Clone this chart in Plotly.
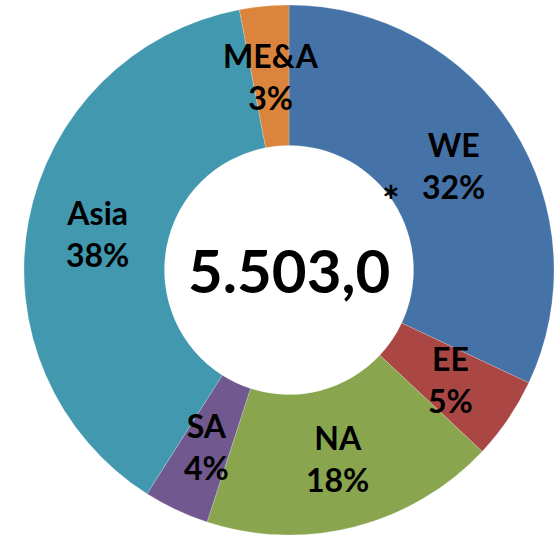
import math
import plotly.graph_objects as go

# data, clockwise from 12 o'clock
regions = ['WE', 'EE', 'NA', 'SA', 'Asia', 'ME&A']
shares = [32, 5, 18, 4, 38, 3]
colors = ['#4572A7', '#AA4643', '#89A54E', '#71588F', '#4198AF', '#DB843D']
total_label = '5.503,0'

W, H = 556, 535
cx, cy = 289, 270      # pie centre in px
r_out = 265
hole = 0.47
label_font = dict(family='Lato', size=32, color='black', weight='bold')

fig = go.Figure(go.Pie(
    labels=regions,
    values=shares,
    sort=False,
    direction='clockwise',
    rotation=0,
    hole=hole,
    marker=dict(colors=colors, line=dict(color='rgba(255,255,255,0.4)', width=0.5)),
    textinfo='none',
    hoverinfo='label+percent',
    showlegend=False,
    domain=dict(x=[(cx - r_out) / W, (cx + r_out) / W],
                y=[1 - (cy + r_out) / H, 1 - (cy - r_out) / H]),
))

# labels at middle of the ring, along each slice's bisector
annotations = []
r_mid = r_out * (1 + hole) / 2
tot = sum(shares)
cum = 0
for name, v in zip(regions, shares):
    ang = 2 * math.pi * (cum + v / 2) / tot
    cum += v
    px_ = cx + r_mid * math.sin(ang)
    py_ = cy - r_mid * math.cos(ang)
    annotations.append(dict(
        x=px_ / W, y=1 - py_ / H, xref='paper', yref='paper',
        xanchor='center', yanchor='middle',
        text=f'{name}<br>{round(v / tot * 100)}%', showarrow=False,
        font=label_font,
    ))
    if name == 'WE':
        # the little star next to the WE share
        annotations.append(dict(
            x=px_ / W, y=1 - py_ / H, xref='paper', yref='paper',
            xanchor='center', yanchor='middle',
            text='*', showarrow=False, xshift=-62, yshift=-35,
            font=dict(family='Lato', size=42, color='black', weight='bold'),
        ))

annotations.append(dict(
    x=cx / W, y=1 - cy / H, xref='paper', yref='paper',
    xanchor='center', yanchor='middle',
    text=total_label, showarrow=False,
    font=dict(family='Lato', size=60, color='black', weight='bold'),
))

fig.update_layout(
    width=W, height=H,
    margin=dict(l=0, r=0, t=0, b=0),
    paper_bgcolor='white',
    plot_bgcolor='white',
    annotations=annotations,
)

fig.write_html("out.html", config={'displayModeBar': False},
               post_script="document.body.style.margin='0';")
